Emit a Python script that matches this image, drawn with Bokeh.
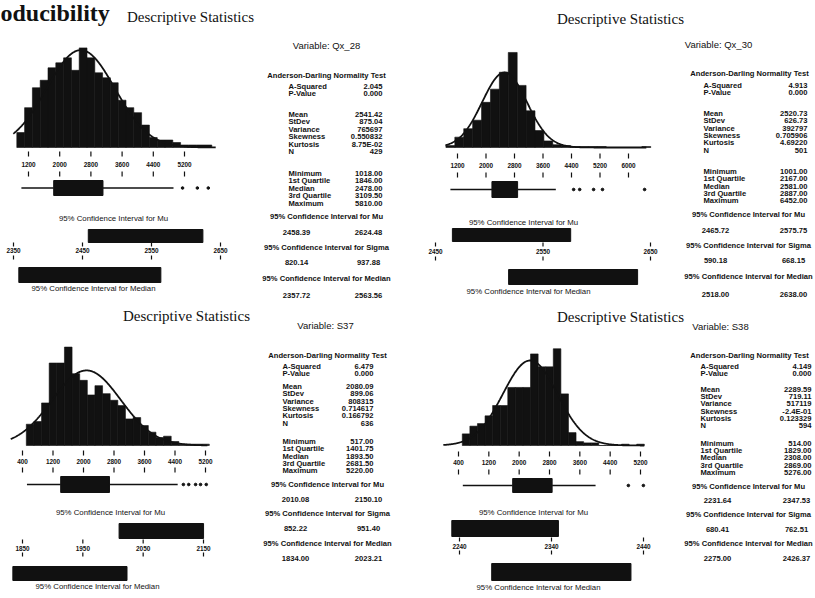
import numpy as np
from bokeh.plotting import figure
from bokeh.models import Range1d
from bokeh.core.properties import value
from bokeh.embed import file_html
from bokeh.resources import INLINE

W, H = 815, 598

# ---------------- DATA ----------------
heading_fragment = "oducibility"
panel_title = "Descriptive Statistics"
variable_names = ["Qx_28", "Qx_30", "S37", "S38"]

ad_labels = ["A-Squared", "P-Value"]
moment_labels = ["Mean", "StDev", "Variance", "Skewness", "Kurtosis", "N"]
quartile_labels = ["Minimum", "1st Quartile", "Median", "3rd Quartile", "Maximum"]
ci_titles = ["95% Confidence Interval for Mu",
             "95% Confidence Interval for Sigma",
             "95% Confidence Interval for Median"]

# Qx_28
qx28_bin_centers = [1000, 1200, 1400, 1600, 1800, 2000, 2200, 2400, 2600, 2800, 3000, 3200, 3400,
                    3600, 3800, 4000, 4200, 4400, 4600, 4800, 5000, 5200, 5400, 5600, 5800]
qx28_counts = [6, 16, 24, 27, 32, 34, 36, 31, 40, 36, 30, 28, 26, 19, 16, 14, 9, 4, 3, 3, 2, 1, 1, 1, 1]
qx28_bin_width = 200
qx28_ticks = [1200, 2000, 2800, 3600, 4400, 5200]
qx28_box = [1018, 1846, 2478, 3109.5, 4918]
qx28_outliers = [5150, 5530, 5810]
qx28_ci_ticks = [2350, 2450, 2550, 2650]
qx28_ad = ["2.045", "0.000"]
qx28_moments = ["2541.42", "875.04", "765697", "0.550832", "8.75E-02", "429"]
qx28_quartiles = ["1018.00", "1846.00", "2478.00", "3109.50", "5810.00"]
qx28_ci_mu = ["2458.39", "2624.48"]
qx28_ci_sigma = ["820.14", "937.88"]
qx28_ci_median = ["2357.72", "2563.56"]

# Qx_30
qx30_bin_centers = [1000, 1250, 1500, 1750, 2000, 2250, 2500, 2750, 3000, 3250, 3500, 3750, 4000,
                    4250, 4500, 4750, 5000, 5250, 5500, 5750, 6000, 6250, 6500]
qx30_counts = [2, 11, 20, 29, 48, 62, 80, 101, 66, 39, 18, 7, 3, 2, 1, 1, 1, 1, 0, 0, 0, 0, 1]
qx30_bin_width = 250
qx30_ticks = [1200, 2000, 2800, 3600, 4400, 5200, 6000]
qx30_box = [1001, 2167, 2581, 2887, 3960]
qx30_outliers = [4460, 4630, 5020, 5270, 6452]
qx30_ci_ticks = [2450, 2550, 2650]
qx30_ad = ["4.913", "0.000"]
qx30_moments = ["2520.73", "626.73", "392797", "0.705906", "4.69220", "501"]
qx30_quartiles = ["1001.00", "2167.00", "2581.00", "2887.00", "6452.00"]
qx30_ci_mu = ["2465.72", "2575.75"]
qx30_ci_sigma = ["590.18", "668.15"]
qx30_ci_median = ["2518.00", "2638.00"]

# S37
s37_bin_centers = [600, 800, 1000, 1200, 1400, 1600, 1800, 2000, 2200, 2400, 2600, 2800,
                   3000, 3200, 3400, 3600, 3800, 4000, 4200, 4400, 4600, 4800, 5000, 5200]
s37_counts = [16, 18, 32, 62, 62, 74, 54, 49, 38, 45, 39, 34, 30, 20, 21, 15, 10, 6, 7, 3, 1, 1, 1, 1]
s37_bin_width = 200
s37_ticks = [400, 1200, 2000, 2800, 3600, 4400, 5200]
s37_box = [517, 1401.75, 1893.5, 2681.5, 4470]
s37_outliers = [4620, 4760, 4940, 5070, 5220]
s37_ci_ticks = [1850, 1950, 2050, 2150]
s37_ad = ["6.479", "0.000"]
s37_moments = ["2080.09", "899.06", "808315", "0.714617", "0.166792", "636"]
s37_quartiles = ["517.00", "1401.75", "1893.50", "2681.50", "5220.00"]
s37_ci_mu = ["2010.08", "2150.10"]
s37_ci_sigma = ["852.22", "951.40"]
s37_ci_median = ["1834.00", "2023.21"]

# S38
s38_bin_centers = [600, 800, 1000, 1200, 1400, 1600, 1800, 2000, 2200, 2400, 2600, 2800,
                   3000, 3200, 3400, 3600, 3800, 4000, 4200, 4400, 4600, 4800, 5000, 5200]
s38_counts = [9, 15, 17, 23, 31, 31, 45, 45, 45, 71, 61, 61, 75, 40, 10, 3, 2, 2, 0, 0, 0, 1, 0, 1]
s38_bin_width = 200
s38_ticks = [400, 1200, 2000, 2800, 3600, 4400, 5200]
s38_box = [514, 1829, 2308, 2869, 4015]
s38_outliers = [4880, 5276]
s38_ci_ticks = [2240, 2340, 2440]
s38_ad = ["4.149", "0.000"]
s38_moments = ["2289.59", "719.11", "517119", "-2.4E-01", "0.123329", "594"]
s38_quartiles = ["514.00", "1829.00", "2308.00", "2869.00", "5276.00"]
s38_ci_mu = ["2231.64", "2347.53"]
s38_ci_sigma = ["680.41", "762.51"]
s38_ci_median = ["2275.00", "2426.37"]

# ---------------- LAYOUT (pixel positions, y downwards) ----------------
layouts = [
    dict(title=(190, 16), hist_x=(1200, 5200, 28, 184), base=147, ppc=2.49, span=(810, 6000),
         tick_up=(151, 156), tick_lab=164, tick_dn=(171, 176), box_y=(180, 195),
         mu_text=(113, 218), ci_x=(2350, 2650, 13, 220), mu_bar=(229, 242),
         ci_up=(242, 246), ci_lab=250, ci_dn=(255, 259), med_bar=(267, 282), med_text=(93, 288),
         var=(326, 45), ad_title=(326, 75), lab_x=288, val_x=382, ad0=86, m0=114, q0=173, step=7.4,
         ci_rows=[216, 232, 247, 262, 278, 295], ci_center=326, ci_vals=(296, 368)),
    dict(title=(620, 18), hist_x=(1200, 6000, 457, 628), base=147, ppc=0.941, span=(860, 6500),
         tick_up=(153, 158), tick_lab=165, tick_dn=(172, 177), box_y=(181, 197),
         mu_text=(523, 222), ci_x=(2450, 2650, 435, 650), mu_bar=(228, 241),
         ci_up=(242, 246), ci_lab=251, ci_dn=(256, 260), med_bar=(269, 284), med_text=(528, 291),
         var=(718, 44), ad_title=(749, 73), lab_x=703, val_x=807, ad0=85, m0=113, q0=171, step=7.3,
         ci_rows=[214, 230, 245, 260, 276, 294], ci_center=748, ci_vals=(715, 793)),
    dict(title=(186, 315), hist_x=(400, 5200, 22, 205), base=445, ppc=1.33, span=(90, 5250),
         tick_up=(450, 455), tick_lab=461, tick_dn=(467, 472), box_y=(476, 492),
         mu_text=(110, 512), ci_x=(1850, 2150, 22, 203), mu_bar=(523, 538),
         ci_up=(539, 543), ci_lab=548, ci_dn=(552, 556), med_bar=(566, 580), med_text=(97, 586),
         var=(325, 325), ad_title=(327, 355), lab_x=282, val_x=373, ad0=366, m0=386, q0=441, step=7.3,
         ci_rows=[484, 499, 513, 528, 543, 558], ci_center=327, ci_vals=(295, 368)),
    dict(title=(620, 316), hist_x=(400, 5200, 458, 640), base=445, ppc=1.29, span=(0, 5300),
         tick_up=(451, 456), tick_lab=462, tick_dn=(469, 474), box_y=(478, 492),
         mu_text=(533, 512), ci_x=(2240, 2440, 459, 643), mu_bar=(520, 536),
         ci_up=(537, 541), ci_lab=546, ci_dn=(550, 554), med_bar=(563, 580), med_text=(538, 587),
         var=(720, 326), ad_title=(749, 355), lab_x=700, val_x=811, ad0=366, m0=389, q0=443, step=7.2,
         ci_rows=[486, 500, 514, 529, 543, 558], ci_center=748, ci_vals=(717, 796)),
]

panels = [
    (variable_names[0], qx28_bin_centers, qx28_counts, qx28_bin_width, qx28_ticks, qx28_box, qx28_outliers,
     qx28_ci_ticks, qx28_ad, qx28_moments, qx28_quartiles, qx28_ci_mu, qx28_ci_sigma, qx28_ci_median),
    (variable_names[1], qx30_bin_centers, qx30_counts, qx30_bin_width, qx30_ticks, qx30_box, qx30_outliers,
     qx30_ci_ticks, qx30_ad, qx30_moments, qx30_quartiles, qx30_ci_mu, qx30_ci_sigma, qx30_ci_median),
    (variable_names[2], s37_bin_centers, s37_counts, s37_bin_width, s37_ticks, s37_box, s37_outliers,
     s37_ci_ticks, s37_ad, s37_moments, s37_quartiles, s37_ci_mu, s37_ci_sigma, s37_ci_median),
    (variable_names[3], s38_bin_centers, s38_counts, s38_bin_width, s38_ticks, s38_box, s38_outliers,
     s38_ci_ticks, s38_ad, s38_moments, s38_quartiles, s38_ci_mu, s38_ci_sigma, s38_ci_median),
]

SANS = value("Liberation Sans")
SERIF = value("Liberation Serif")
INK = "#111111"

p = figure(width=W, height=H, x_range=Range1d(0, W), y_range=Range1d(H, 0),
           output_backend="svg", toolbar_location=None, min_border=0)
p.axis.visible = False
p.grid.visible = False
p.outline_line_color = None
p.background_fill_color = "white"
p.border_fill_color = "white"

p.text(x=[0], y=[12.5], text=[heading_fragment], text_font=SERIF, text_font_size="24px",
       text_font_style="bold", text_baseline="middle", text_align="left", text_color=INK)


def small_text(api, x, y, text, align="center", size="7.6px", style="bold"):
    api.text(x=x, y=y, text=text, text_font=SANS, text_font_size=size, text_font_style=style,
             text_align=align, text_baseline="middle", text_color=INK)


for L, (name, centers, counts, bw, ticks, box, outl, ci_ticks, ad, mom, qua, cimu, cisig, cimed) in zip(layouts, panels):
    hs0, hs1, ht0, ht1 = L["hist_x"]
    base, ppc = L["base"], L["ppc"]
    ymax = 200.0
    hist = p.subplot(x_source=Range1d(hs0, hs1), y_source=Range1d(0, ymax),
                     x_target=Range1d(ht0, ht1), y_target=Range1d(base, base - ymax * ppc))
    c = np.array(centers, dtype=float)
    n = np.array(counts, dtype=float)
    hist.quad(left=c - bw / 2, right=c + bw / 2, bottom=0, top=n,
              fill_color=INK, line_color=INK, line_width=0.6)
    mean, sd, N = float(mom[0]), float(mom[1]), float(mom[5])
    xs = np.linspace(L["span"][0], L["span"][1], 400)
    ys = N * bw / (sd * np.sqrt(2 * np.pi)) * np.exp(-0.5 * ((xs - mean) / sd) ** 2)
    hist.line(xs, ys, line_color=INK, line_width=1.8)

    # main axis + box plot (x in data units, y in pixels)
    ax = p.subplot(x_source=Range1d(hs0, hs1), y_source=Range1d(0, H),
                   x_target=Range1d(ht0, ht1), y_target=Range1d(0, H))
    ax.segment(x0=ticks, y0=L["tick_up"][0], x1=ticks, y1=L["tick_up"][1], line_color=INK, line_width=1.2)
    ax.segment(x0=ticks, y0=L["tick_dn"][0], x1=ticks, y1=L["tick_dn"][1], line_color=INK, line_width=1.2)
    small_text(ax, ticks, L["tick_lab"], [str(t) for t in ticks], size="6.4px")
    wlo, q1, med, q3, whi = box
    yb0, yb1 = L["box_y"]
    ym = (yb0 + yb1) / 2
    ax.segment(x0=[wlo, q3], y0=ym, x1=[q1, whi], y1=ym, line_color=INK, line_width=1.3)
    ax.quad(left=[q1], right=[q3], top=[yb0], bottom=[yb1], fill_color=INK, line_color=INK)
    ax.scatter(x=outl, y=[ym] * len(outl), size=2.6, marker="circle", fill_color=INK, line_color=INK)

    # confidence interval strip
    cs0, cs1, ct0, ct1 = L["ci_x"]
    ci = p.subplot(x_source=Range1d(cs0, cs1), y_source=Range1d(0, H),
                   x_target=Range1d(ct0, ct1), y_target=Range1d(0, H))
    ci.quad(left=[float(cimu[0])], right=[float(cimu[1])], top=[L["mu_bar"][0]], bottom=[L["mu_bar"][1]],
            fill_color=INK, line_color=INK)
    ci.quad(left=[float(cimed[0])], right=[float(cimed[1])], top=[L["med_bar"][0]], bottom=[L["med_bar"][1]],
            fill_color=INK, line_color=INK)
    ci.segment(x0=ci_ticks, y0=L["ci_up"][0], x1=ci_ticks, y1=L["ci_up"][1], line_color=INK, line_width=1.2)
    ci.segment(x0=ci_ticks, y0=L["ci_dn"][0], x1=ci_ticks, y1=L["ci_dn"][1], line_color=INK, line_width=1.2)
    small_text(ci, ci_ticks, L["ci_lab"], [str(t) for t in ci_ticks], size="6.4px")

    # texts
    p.text(x=[L["title"][0]], y=[L["title"][1]], text=[panel_title], text_font=SERIF, text_font_size="15px",
           text_align="center", text_baseline="middle", text_color=INK)
    small_text(p, [L["mu_text"][0]], [L["mu_text"][1]], [ci_titles[0]], style="normal", size="7.8px")
    small_text(p, [L["med_text"][0]], [L["med_text"][1]], [ci_titles[2]], style="normal", size="7.8px")
    small_text(p, [L["var"][0]], [L["var"][1]], [f"Variable: {name}"], size="9.5px", style="normal")
    small_text(p, [L["ad_title"][0]], [L["ad_title"][1]], ["Anderson-Darling Normality Test"])
    rows = ([L["ad0"], L["ad0"] + L["step"]] +
            [L["m0"] + i * L["step"] for i in range(6)] +
            [L["q0"] + i * L["step"] for i in range(5)])
    labels = ad_labels + moment_labels + quartile_labels
    vals = ad + mom + qua
    small_text(p, [L["lab_x"]] * len(rows), rows, labels, align="left")
    small_text(p, [L["val_x"]] * len(rows), rows, vals, align="right")
    cr = L["ci_rows"]
    small_text(p, [L["ci_center"]] * 3, [cr[0], cr[2], cr[4]], ci_titles)
    v1, v2 = L["ci_vals"]
    small_text(p, [v1, v2, v1, v2, v1, v2], [cr[1], cr[1], cr[3], cr[3], cr[5], cr[5]],
               cimu + cisig + cimed)

open("out.html", "w").write(file_html(p, INLINE))
